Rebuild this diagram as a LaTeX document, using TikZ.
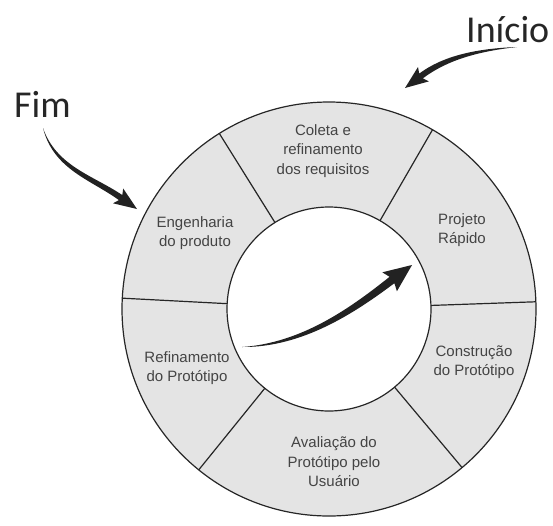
\documentclass[tikz,border=0pt]{standalone}
\usepackage{fontspec}
\usetikzlibrary{calc}
\setmainfont{Liberation Sans}
\newfontfamily\bigfont{Carlito}
\definecolor{ringfill}{RGB}{228,228,228}
\definecolor{labeltext}{RGB}{68,68,68}
\definecolor{arrowink}{RGB}{34,34,34}
\begin{document}
\begin{tikzpicture}[x=1pt,y=-1pt,
  ringline/.style={line width=1.2pt,draw=black!85},
  phase/.style={align=center,inner sep=0pt,text=labeltext,
    font=\fontsize{15}{19.5}\selectfont},
  bigword/.style={inner sep=0pt,anchor=base west,text=black!85,
    font=\bigfont\fontsize{38}{40}\selectfont},
  tapered/.style={fill=arrowink,draw=none}]
\useasboundingbox (0,0) rectangle (553,525);

% centre of the cycle
\coordinate (C) at (329,309);

% ring and inner disc
\fill[ringfill] (C) circle [radius=207];
\draw[ringline] (C) circle [radius=207];
\fill[white] (C) circle [radius=102];
\draw[ringline] (C) circle [radius=102];

% radial separators between the phases
\foreach \a in {-177,-122,-60,-2,50,129}
  \draw[ringline] ($(C)+(\a:102)$) -- ($(C)+(\a:207)$);

% phase labels
\node[phase] (coleta) at (323,151) {Coleta e\\refinamento\\dos requisitos};
\node[phase] (projeto) at (462,230) {Projeto\\Rápido};
\node[phase] (construcao) at (474,362) {Construção\\do Protótipo};
\node[phase] (avaliacao) at (334,462) {Avaliação do\\Protótipo pelo\\Usuário};
\node[phase] (refino) at (187,368) {Refinamento\\do Protótipo};
\node[phase] (engenharia) at (195,233) {Engenharia\\do produto};

% start / end labels
\node[bigword] (inicio) at (466,42) {Início};
\node[bigword] (fim) at (14,117) {Fim};

% tapered arrow from "Início" onto the ring
\coordinate (inicioTail) at (517,47);
\coordinate (inicioTip) at (405,88);
\fill[tapered] (inicioTail) .. controls (477,51.5) and (446.5,60.5) .. (422.8,78.4)
  -- (428.8,81.4) -- (inicioTip) -- (418,67) -- (419.2,73.6)
  .. controls (443.5,55.5) and (477,48.5) .. (inicioTail) -- cycle;

% tapered arrow from "Fim" onto the ring
\coordinate (fimTail) at (43,128);
\coordinate (fimTip) at (137,209);
\fill[tapered] (fimTail) .. controls (53.5,169.5) and (90.5,179.5) .. (118.9,200.1)
  -- (113,203.3) -- (fimTip) -- (123.2,188.5) -- (122.3,195.1)
  .. controls (93.5,175.5) and (56.5,166.5) .. (fimTail) -- cycle;

% tapered arrow inside the cycle
\coordinate (midTail) at (242,347);
\coordinate (midTip) at (412,265);
\fill[tapered] (midTail) .. controls (302,347.5) and (354,313.5) .. (394.4,283.2)
  -- (396.9,291.3) -- (midTip) -- (382.3,272.3) -- (389.6,276.8)
  .. controls (351,307.5) and (302,343) .. (midTail) -- cycle;
\end{tikzpicture}
\end{document}
